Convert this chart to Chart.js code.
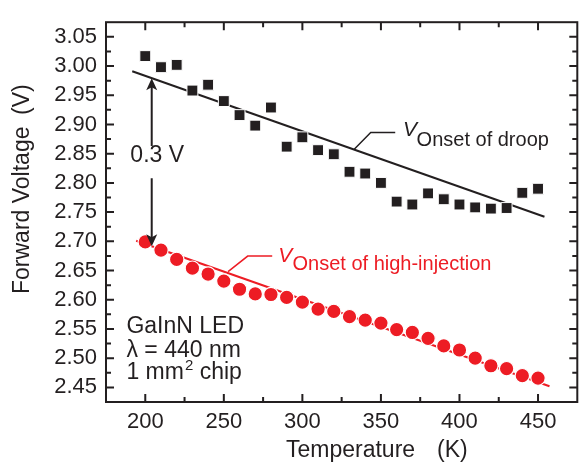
<!DOCTYPE html>
<html>
<head>
<meta charset="utf-8">
<script src="https://cdn.jsdelivr.net/npm/chart.js@4"></script>
<style>
  html, body { margin: 0; padding: 0; background: #fff; }
  #wrap { width: 586px; height: 469px; position: relative; }
</style>
</head>
<body>
<div id="wrap"><canvas id="vf-chart"></canvas></div>
<script>
// measured points, temperature in K, forward voltage in V
const temperatures = [200, 210, 220, 230, 240, 250, 260, 270, 280, 290, 300, 310, 320,
                      330, 340, 350, 360, 370, 380, 390, 400, 410, 420, 430, 440, 450];
const vOnsetDroop = [3.017, 2.998, 3.002, 2.958, 2.968, 2.940, 2.916, 2.898, 2.929, 2.862, 2.878, 2.856, 2.849,
                     2.819, 2.816, 2.800, 2.768, 2.763, 2.782, 2.772, 2.763, 2.758, 2.756, 2.757, 2.783, 2.790];
const vOnsetHighInj = [2.699, 2.685, 2.669, 2.654, 2.644, 2.632, 2.618, 2.610, 2.609, 2.604, 2.596, 2.584, 2.580,
                       2.571, 2.565, 2.560, 2.549, 2.544, 2.534, 2.521, 2.514, 2.500, 2.487, 2.482, 2.470, 2.466];

// straight fit lines (end points)
const droopFitT = [191.7, 454.1];
const droopFitV = [2.991, 2.742];
const highInjFitT = [194.2, 457.3];
const highInjFitV = [2.701, 2.452];

// tick labels
const xTickLabels = ["200", "250", "300", "350", "400", "450"];
const yTickLabels = ["2.45", "2.50", "2.55", "2.60", "2.65", "2.70", "2.75",
                     "2.80", "2.85", "2.90", "2.95", "3.00", "3.05"];

const black = "#231f20";
const red = "#ed1c24";
const family = '"Liberation Sans", Arial, Helvetica, sans-serif';

const X_MIN = 175, X_MAX = 475, Y_MIN = 2.425, Y_MAX = 3.075;

const toXY = (xs, ys) => xs.map((x, i) => ({ x: x, y: ys[i] }));

// major ticks from the label lists, minor ticks half way between
const xMajor = xTickLabels.map(Number);
const yMajor = yTickLabels.map(Number);
const xTicks = [];
for (let v = X_MIN; v <= X_MAX + 0.01; v += 25) xTicks.push(v);
const yTicks = [];
for (let i = 0; i <= 26; i++) yTicks.push(Math.round((Y_MIN + i * 0.025) * 1000) / 1000);

const isMajor = (list, v) => list.some((m) => Math.abs(m - v) < 1e-6);

const frameAndNotes = {
  id: "frameAndNotes",
  afterDraw(chart) {
    const ctx = chart.ctx;
    const a = chart.chartArea;
    const sx = chart.scales.x, sy = chart.scales.y;
    const px = (t) => sx.getPixelForValue(t);
    const py = (v) => sy.getPixelForValue(v);
    ctx.save();

    // box
    ctx.strokeStyle = black;
    ctx.lineWidth = 2;
    ctx.strokeRect(a.left, a.top, a.right - a.left, a.bottom - a.top);

    // inward ticks on all four sides
    ctx.beginPath();
    xTicks.forEach((v) => {
      if (v <= X_MIN || v >= X_MAX) return;
      const len = isMajor(xMajor, v) ? 8 : 5;
      const x = px(v);
      ctx.moveTo(x, a.bottom); ctx.lineTo(x, a.bottom - len);
      ctx.moveTo(x, a.top); ctx.lineTo(x, a.top + len);
    });
    yTicks.forEach((v) => {
      if (v <= Y_MIN || v >= Y_MAX) return;
      const len = isMajor(yMajor, v) ? 8 : 5;
      const y = py(v);
      ctx.moveTo(a.left, y); ctx.lineTo(a.left + len, y);
      ctx.moveTo(a.right, y); ctx.lineTo(a.right - len, y);
    });
    ctx.stroke();

    // axis titles
    ctx.fillStyle = black;
    ctx.font = "23px " + family;
    ctx.textAlign = "left";
    ctx.textBaseline = "alphabetic";
    ctx.fillText("Temperature", 286, 456.5);
    ctx.fillText("(K)", 437, 456.5);
    ctx.save();
    ctx.translate(28.5, 294);
    ctx.rotate(-Math.PI / 2);
    ctx.fillText("Forward Voltage", 0, 0);
    ctx.fillText("(V)", 179, 0);
    ctx.restore();

    // 0.3 V double arrow
    const ax = px(204.1);
    const yTop = py(2.9792), yBot = py(2.6916);
    ctx.lineWidth = 2;
    ctx.beginPath();
    ctx.moveTo(ax, yTop + 8); ctx.lineTo(ax, py(2.863));
    ctx.moveTo(ax, py(2.808)); ctx.lineTo(ax, yBot - 8);
    ctx.stroke();
    const head = (y, dir) => {
      ctx.beginPath();
      ctx.moveTo(ax, y);
      ctx.lineTo(ax - 5.5, y + dir * 12);
      ctx.lineTo(ax, y + dir * 9);
      ctx.lineTo(ax + 5.5, y + dir * 12);
      ctx.closePath();
      ctx.fill();
    };
    head(yTop, 1);
    head(yBot, -1);
    ctx.font = "23px " + family;
    ctx.textAlign = "center";
    ctx.fillText("0.3 V", px(207.6), 161.5);

    // callouts
    const callout = (color, pts, vT, vV, sT, sV, sub) => {
      ctx.strokeStyle = color;
      ctx.fillStyle = color;
      ctx.lineWidth = 1.5;
      ctx.beginPath();
      pts.forEach((p, i) => (i ? ctx.lineTo(px(p[0]), py(p[1])) : ctx.moveTo(px(p[0]), py(p[1]))));
      ctx.stroke();
      ctx.textAlign = "left";
      ctx.font = "italic 21px " + family;
      ctx.fillText("V", px(vT), py(vV));
      ctx.font = "20px " + family;
      ctx.fillText(sub, px(sT), py(sV));
    };
    callout(black, [[333.0, 2.8576], [343.5, 2.8862], [359.1, 2.8862]],
      364.1, 2.8796, 372.7, 2.8634, "Onset of droop");
    callout(red, [[252.7, 2.6482], [265.2, 2.6747], [280.8, 2.6747]],
      284.6, 2.6651, 293.7, 2.6502, "Onset of high-injection");

    // sample description
    ctx.fillStyle = black;
    ctx.font = "23px " + family;
    const tx = px(188.0);
    ctx.fillText("GaInN LED", tx, py(2.5436));
    ctx.fillText("\u03bb = 440 nm", tx, py(2.5023));
    const yb = py(2.4643);
    ctx.fillText("1 mm", tx, yb);
    let w = ctx.measureText("1 mm").width;
    ctx.font = "15px " + family;
    ctx.fillText("2", tx + w + 1, yb - 9);
    w += ctx.measureText("2").width + 1;
    ctx.font = "23px " + family;
    ctx.fillText(" chip", tx + w, yb);

    ctx.restore();
  },
};

const data = {
  datasets: [
    { label: "fit droop", data: toXY(droopFitT, droopFitV), showLine: true,
      borderColor: black, borderWidth: 2, pointRadius: 0, order: 2 },
    { label: "fit high-injection", data: toXY(highInjFitT, highInjFitV), showLine: true,
      borderColor: red, borderWidth: 2, pointRadius: 0, order: 2 },
    { label: "V onset of droop", data: toXY(temperatures, vOnsetDroop), pointStyle: "rect",
      pointRadius: 7.7, backgroundColor: black, borderColor: "#fff", borderWidth: 1, order: 1 },
    { label: "V onset of high-injection", data: toXY(temperatures, vOnsetHighInj), pointStyle: "circle",
      pointRadius: 7.2, backgroundColor: red, borderColor: "#fff", borderWidth: 1.2, order: 1 },
  ],
};

const options = {
  responsive: true,
  maintainAspectRatio: false,
  animation: false,
  layout: { padding: { top: 8, right: 1, left: 0, bottom: 0 } },
  plugins: { legend: { display: false }, tooltip: { enabled: false } },
  scales: {
    x: {
      type: "linear",
      min: X_MIN,
      max: X_MAX,
      afterBuildTicks: (s) => { s.ticks = xTicks.map((v) => ({ value: v })); },
      afterFit: (s) => { s.height = 67; },
      grid: { display: false, drawTicks: false },
      border: { display: false },
      ticks: {
        autoSkip: false,
        maxRotation: 0,
        padding: 7,
        color: black,
        font: { family: family, size: 22 },
        callback: (v) => {
          const i = xMajor.findIndex((m) => Math.abs(m - v) < 1e-6);
          return i >= 0 ? xTickLabels[i] : "";
        },
      },
    },
    y: {
      type: "linear",
      min: Y_MIN,
      max: Y_MAX,
      afterBuildTicks: (s) => { s.ticks = yTicks.map((v) => ({ value: v })); },
      afterFit: (s) => { s.width = 106; },
      grid: { display: false, drawTicks: false },
      border: { display: false },
      ticks: {
        autoSkip: false,
        padding: 9,
        color: black,
        font: { family: family, size: 22 },
        callback: (v) => {
          const i = yMajor.findIndex((m) => Math.abs(m - v) < 1e-6);
          return i >= 0 ? yTickLabels[i] : "";
        },
      },
    },
  },
};

const vfChart = new Chart(document.getElementById("vf-chart"), {
  type: "scatter",
  data: data,
  options: options,
  plugins: [frameAndNotes],
});
</script>
</body>
</html>
